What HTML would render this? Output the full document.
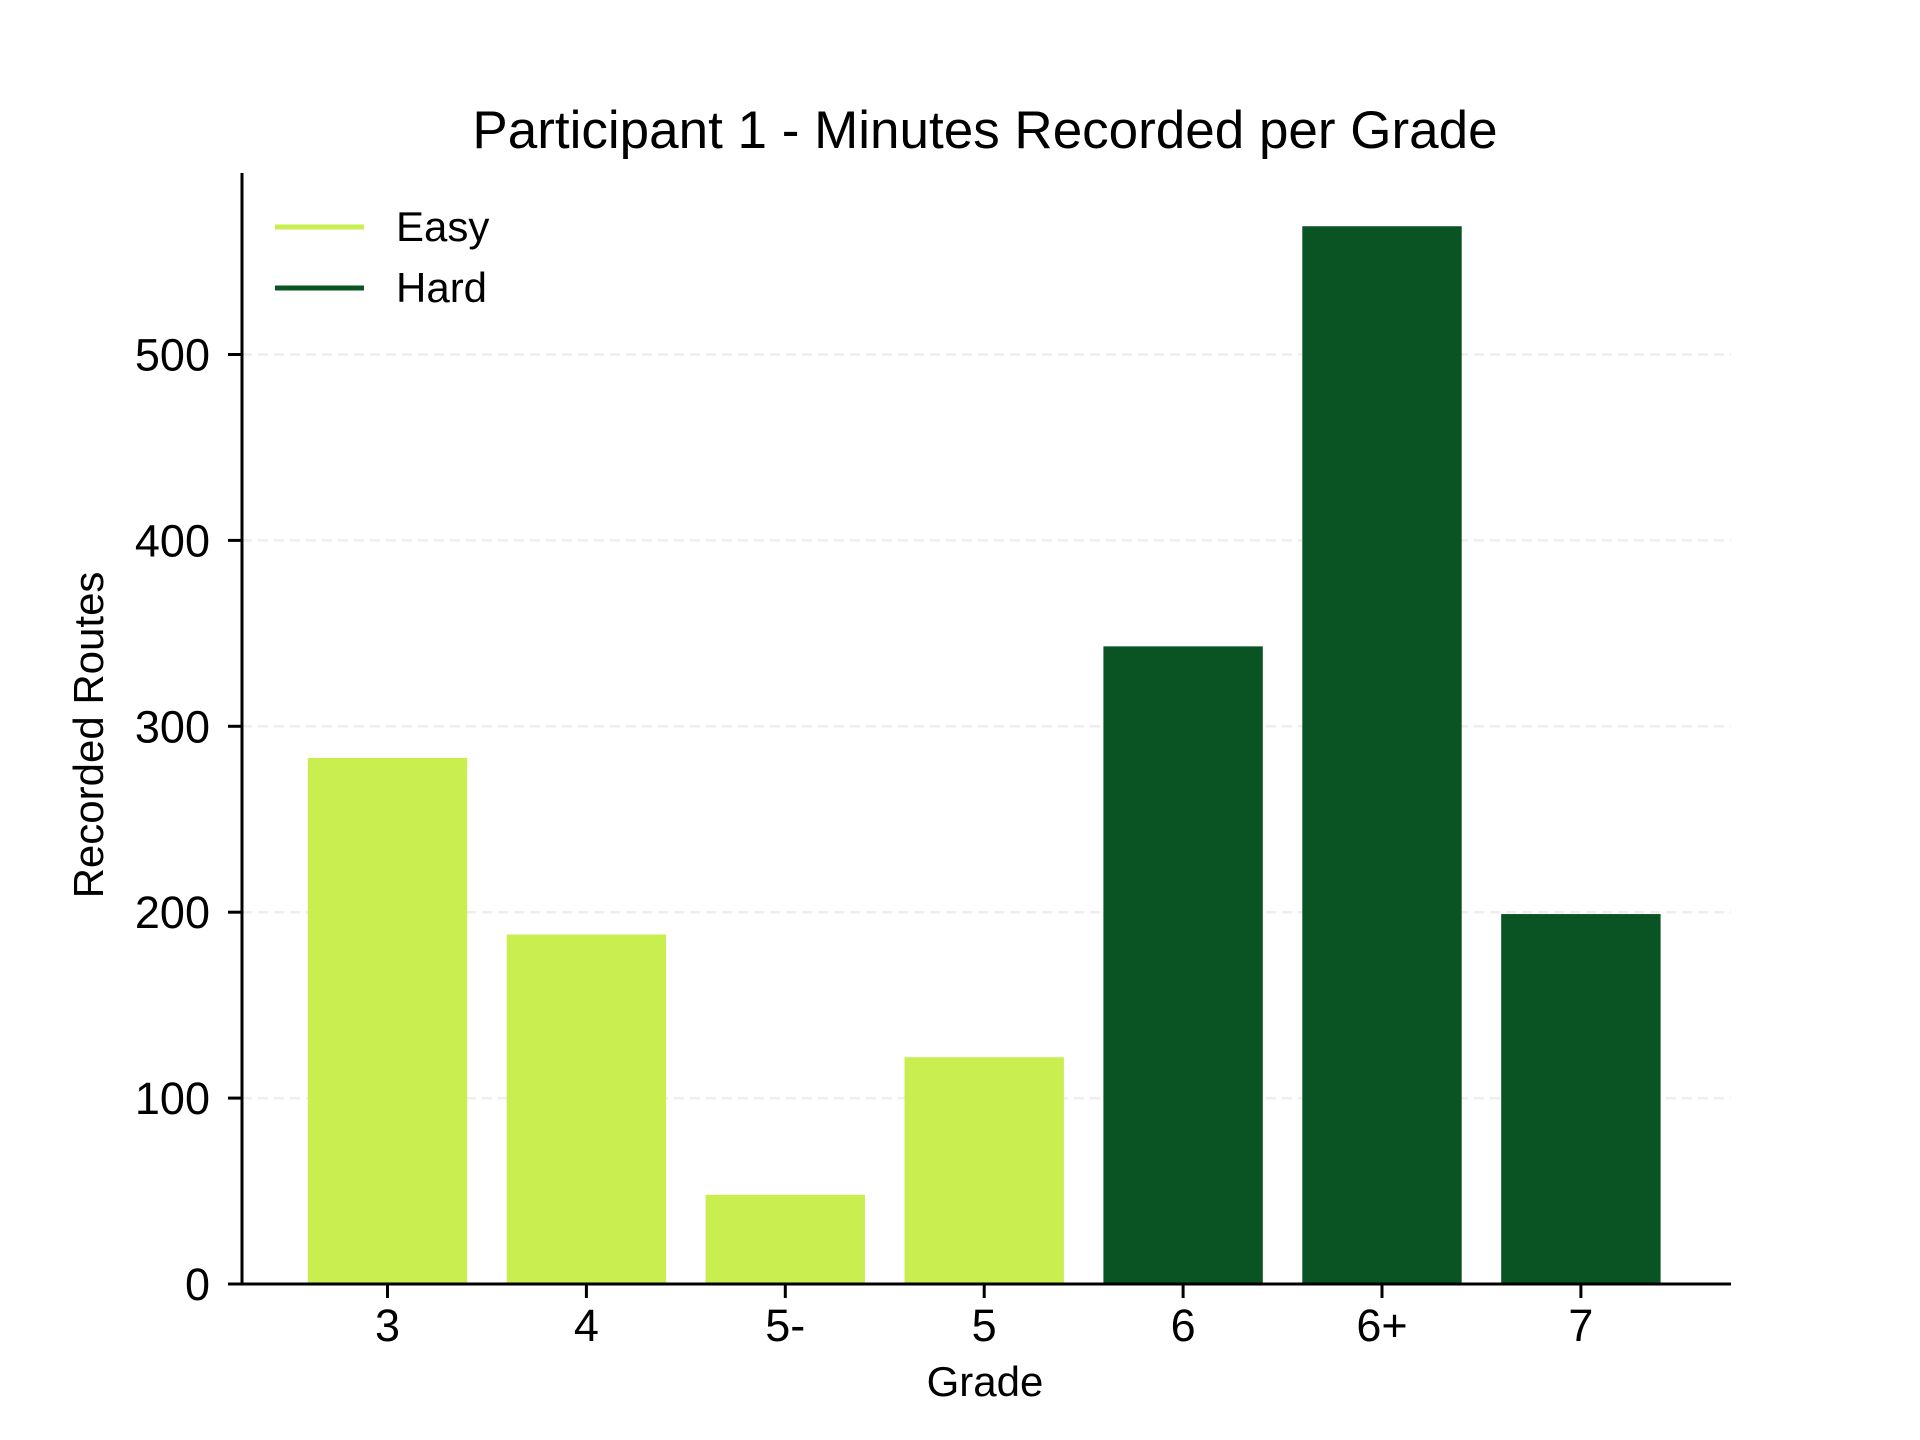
<!DOCTYPE html>
<html><head><meta charset="utf-8"><style>body{margin:0;background:#fff}svg{display:block;font-family:"Liberation Sans",sans-serif}</style></head>
<body>
<svg id="chart" width="1920" height="1440" viewBox="0 0 1920 1440">
<text x="985" y="148" font-size="53" text-anchor="middle">Participant 1 - Minutes Recorded per Grade</text>
<g id="grid"></g><g id="bars"></g><g id="ticks"></g>
<line x1="242" y1="173" x2="242" y2="1285" stroke="#000" stroke-width="3"/>
<line x1="241" y1="1284" x2="1731" y2="1284" stroke="#000" stroke-width="3"/>
<text transform="translate(103,735) rotate(-90)" font-size="42" text-anchor="middle">Recorded Routes</text>
<text x="985" y="1396" font-size="42" text-anchor="middle">Grade</text>
<g>
<line x1="275" y1="227" x2="364" y2="227" stroke="#c8ef4f" stroke-width="5"/>
<text x="396" y="241" font-size="42">Easy</text>
<line x1="275" y1="288" x2="364" y2="288" stroke="#0a5323" stroke-width="5"/>
<text x="396" y="302" font-size="42">Hard</text>
</g>
</svg>
<script>
const categories=["3","4","5-","5","6","6+","7"];
const values=[283,188,48,122,343,569,199];
const groups=["easy","easy","easy","easy","hard","hard","hard"];
const yTicks=[0,100,200,300,400,500];
const NS="http://www.w3.org/2000/svg";
const y=v=>1284-v*1.859;
const x=i=>387.5+i*198.9;
const bw=159.4;
function mk(t,a,p,txt){const e=document.createElementNS(NS,t);for(const k in a)e.setAttribute(k,a[k]);if(txt!==undefined)e.textContent=txt;document.getElementById(p).appendChild(e);return e;}
yTicks.forEach(v=>{
 if(v>0){const g=mk("line",{x1:242,x2:1731,y1:y(v),y2:y(v),stroke:"#eee","stroke-width":2.5,"stroke-dasharray":"10 6"},"grid");
 
 }
 const t=mk("line",{x1:228,x2:242,y1:y(v),y2:y(v),stroke:"#000","stroke-width":3},"ticks");
 
 
 const l=mk("text",{x:210,y:y(v)+16,"font-size":45,"text-anchor":"end"},"ticks",String(v));
 
 
});
categories.forEach((c,i)=>{
 const b=mk("rect",{x:x(i)-bw/2,y:y(values[i]),width:bw,height:1284-y(values[i]),fill:groups[i]==="easy"?"#c8ef4f":"#0a5323"},"bars");
 
 
 const t=mk("line",{x1:x(i),x2:x(i),y1:1284,y2:1298,stroke:"#000","stroke-width":3},"ticks");
 
 
 const l=mk("text",{x:x(i),y:1341,"font-size":45,"text-anchor":"middle"},"ticks",c);
 
 
});
</script>
</body></html>
